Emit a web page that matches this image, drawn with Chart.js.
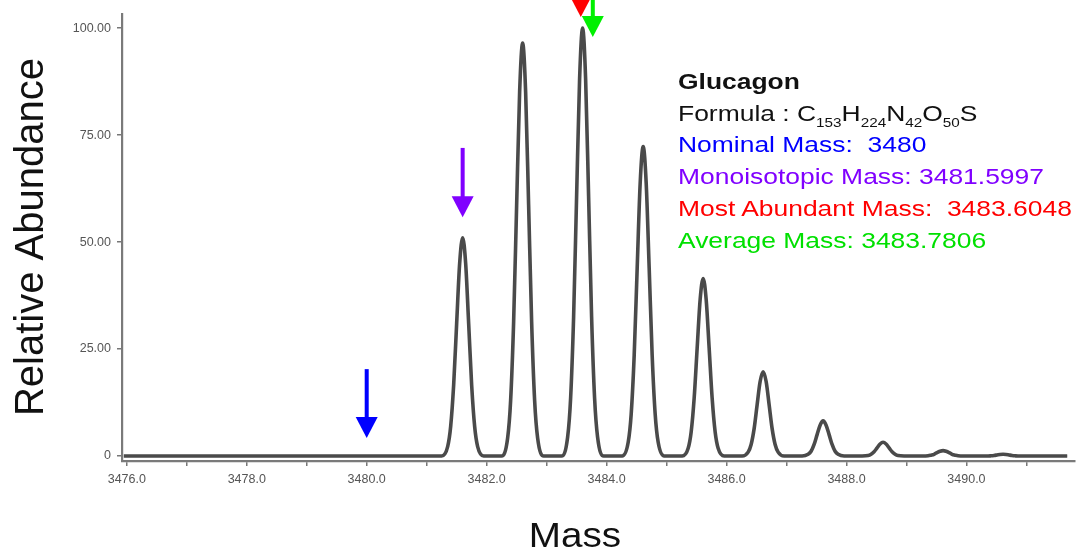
<!DOCTYPE html>
<html>
<head>
<meta charset="utf-8">
<script src="https://cdn.jsdelivr.net/npm/chart.js@4/dist/chart.umd.min.js"></script>
<style>
  body { margin: 0; background: #fff; }
  .wrap { position: relative; width: 1076px; height: 554px; }
  .notes {
    position: absolute; left: 678px; top: 66px;
    font-family: "Liberation Sans", Arial, sans-serif;
    font-size: 22.5px; line-height: 31.7px; white-space: nowrap;
    transform: scaleX(1.175); transform-origin: 0 0;
  }
  .notes sub { font-size: 13px; vertical-align: -5.6px; line-height: 0; }
</style>
</head>
<body>
<div class="wrap">
  <canvas id="spectrum"></canvas>
  <div class="notes">
    <div style="font-weight:bold;color:#111">Glucagon</div>
    <div style="color:#111">Formula : C<sub>153</sub>H<sub>224</sub>N<sub>42</sub>O<sub>50</sub>S</div>
    <div style="color:#0000ff">Nominal Mass:&nbsp; 3480</div>
    <div style="color:#8000ff">Monoisotopic Mass: 3481.5997</div>
    <div style="color:#ff0000">Most Abundant Mass:&nbsp; 3483.6048</div>
    <div style="color:#00e000">Average Mass: 3483.7806</div>
  </div>
</div>
<script>
// isotope profile
const profileMass = [
  3475.95,
  3481.25, 3481.35, 3481.40, 3481.45, 3481.50, 3481.55, 3481.60, 3481.65, 3481.70, 3481.75, 3481.80, 3481.85, 3481.95,
  3482.25, 3482.35, 3482.40, 3482.45, 3482.50, 3482.55, 3482.60, 3482.65, 3482.70, 3482.75, 3482.80, 3482.85, 3482.95,
  3483.25, 3483.35, 3483.40, 3483.45, 3483.50, 3483.55, 3483.60, 3483.65, 3483.70, 3483.75, 3483.80, 3483.85, 3483.95,
  3484.26, 3484.36, 3484.41, 3484.46, 3484.51, 3484.56, 3484.61, 3484.66, 3484.71, 3484.76, 3484.81, 3484.86, 3484.96,
  3485.26, 3485.36, 3485.41, 3485.46, 3485.51, 3485.56, 3485.61, 3485.66, 3485.71, 3485.76, 3485.81, 3485.86, 3485.96,
  3486.26, 3486.36, 3486.41, 3486.46, 3486.51, 3486.56, 3486.61, 3486.66, 3486.71, 3486.76, 3486.81, 3486.86, 3486.96,
  3487.26, 3487.36, 3487.41, 3487.46, 3487.51, 3487.56, 3487.61, 3487.66, 3487.71, 3487.76, 3487.81, 3487.86, 3487.96,
  3488.26, 3488.36, 3488.41, 3488.46, 3488.51, 3488.56, 3488.61, 3488.66, 3488.71, 3488.76, 3488.81, 3488.86, 3488.96,
  3489.26, 3489.36, 3489.41, 3489.46, 3489.51, 3489.56, 3489.61, 3489.66, 3489.71, 3489.76, 3489.81, 3489.86, 3489.96,
  3490.26, 3490.36, 3490.41, 3490.46, 3490.51, 3490.56, 3490.61, 3490.66, 3490.71, 3490.76, 3490.81, 3490.86, 3490.96,
  3491.68
];
const profileAbundance = [
  0,
  0, 2.2, 6.9, 16.6, 31.0, 45.0, 51.0, 45.0, 31.0, 16.6, 6.9, 2.2, 0,
  0, 4.2, 13.0, 31.4, 58.6, 85.1, 96.5, 85.1, 58.6, 31.4, 13.0, 4.2, 0,
  0, 4.4, 13.5, 32.5, 60.7, 88.2, 100, 88.2, 60.7, 32.5, 13.5, 4.4, 0,
  0, 3.2, 9.8, 23.5, 43.9, 63.8, 72.3, 63.8, 43.9, 23.5, 9.8, 3.2, 0,
  0, 1.8, 5.6, 13.5, 25.2, 36.6, 41.5, 36.6, 25.2, 13.5, 5.6, 1.8, 0,
  0, 0.9, 2.7, 6.4, 12.0, 17.4, 19.7, 17.4, 12.0, 6.4, 2.7, 0.9, 0,
  0, 0.4, 1.1, 2.7, 5.0, 7.2, 8.2, 7.2, 5.0, 2.7, 1.1, 0.4, 0,
  0, 0.1, 0.4, 1.0, 1.9, 2.8, 3.2, 2.8, 1.9, 1.0, 0.4, 0.1, 0,
  0, 0.05, 0.2, 0.4, 0.8, 1.1, 1.25, 1.1, 0.8, 0.4, 0.2, 0.05, 0,
  0, 0, 0.05, 0.13, 0.24, 0.35, 0.4, 0.35, 0.24, 0.13, 0.05, 0, 0,
  0
];

// arrows: nominal, monoisotopic, most abundant, average
const arrowMass = [3480.0, 3481.6, 3483.57, 3483.77];
const arrowTip = [4.2, 55.8, 102.6, 97.9];
const arrowTop = [20.3, 72.0, 110, 108];
const arrowColors = ['#0000ff', '#8000ff', '#ff0000', '#00f000'];

const massTicks = [3476, 3477, 3478, 3479, 3480, 3481, 3482, 3483, 3484, 3485, 3486, 3487, 3488, 3489, 3490, 3491];
const abundanceTicks = [0, 25, 50, 75, 100];

const points = profileMass.map((m, i) => ({ x: m, y: profileAbundance[i] }));

Chart.defaults.font.family = '"Liberation Sans", Arial, sans-serif';

const extras = {
  id: 'extras',
  afterDatasetsDraw(chart) {
    const ctx = chart.ctx;
    const xs = chart.scales.x, ys = chart.scales.y;
    ctx.save();
    arrowMass.forEach((m, i) => {
      const x = xs.getPixelForValue(m);
      const tip = ys.getPixelForValue(arrowTip[i]);
      const top = ys.getPixelForValue(arrowTop[i]);
      const head = 21;
      ctx.fillStyle = arrowColors[i];
      ctx.fillRect(x - 2, top, 4, tip - head - top + 1);
      ctx.beginPath();
      ctx.moveTo(x - 11, tip - head);
      ctx.lineTo(x + 11, tip - head);
      ctx.lineTo(x, tip);
      ctx.closePath();
      ctx.fill();
    });
    ctx.restore();
  },
  afterDraw(chart) {
    const ctx = chart.ctx;
    ctx.save();
    ctx.fillStyle = '#111';
    ctx.textAlign = 'center';
    ctx.textBaseline = 'alphabetic';
    ctx.font = '34.5px "Liberation Sans", Arial, sans-serif';
    ctx.translate(575, 547);
    ctx.scale(1.12, 1);
    ctx.fillText('Mass', 0, 0);
    ctx.restore();

    ctx.save();
    ctx.fillStyle = '#111';
    ctx.textAlign = 'center';
    ctx.textBaseline = 'alphabetic';
    ctx.font = '40px "Liberation Sans", Arial, sans-serif';
    ctx.translate(43, 237);
    ctx.rotate(-Math.PI / 2);
    ctx.fillText('Relative Abundance', 0, 0);
    ctx.restore();
  }
};

new Chart(document.getElementById('spectrum'), {
  type: 'line',
  data: {
    datasets: [
      {
        data: points,
        borderColor: '#4a4a4a',
        borderWidth: 3.6,
        pointRadius: 0,
        cubicInterpolationMode: 'monotone',
        fill: false
      },
      {
        data: points,
        borderColor: '#b4b4b4',
        borderWidth: 1.5,
        pointRadius: 0,
        cubicInterpolationMode: 'monotone',
        fill: false
      }
    ]
  },
  options: {
    responsive: true,
    maintainAspectRatio: false,
    animation: false,
    layout: { padding: { top: 14, right: 1, left: 0, bottom: 0 } },
    plugins: {
      legend: { display: false },
      tooltip: { enabled: false }
    },
    scales: {
      x: {
        type: 'linear',
        min: 3475.92,
        max: 3491.81,
        afterBuildTicks: s => { s.ticks = massTicks.map(v => ({ value: v })); },
        afterFit: s => { s.height = 93; },
        ticks: {
          autoSkip: false,
          maxRotation: 0,
          padding: 6,
          color: '#555',
          font: { size: 12.5 },
          callback: v => (v % 2 === 0 ? v.toFixed(1) : '')
        },
        grid: { drawOnChartArea: false, drawTicks: true, tickLength: 5, color: '#777', lineWidth: 1.5 },
        border: { display: true, color: '#7a7a7a', width: 2.2 }
      },
      y: {
        type: 'linear',
        min: -1.17,
        max: 103.3,
        afterBuildTicks: s => { s.ticks = abundanceTicks.map(v => ({ value: v })); },
        afterFit: s => { s.width = 122; },
        ticks: {
          padding: 6,
          color: '#555',
          font: { size: 12.5 },
          callback: v => (v === 0 ? '0' : v.toFixed(2))
        },
        grid: { drawOnChartArea: false, drawTicks: true, tickLength: 5, color: '#777', lineWidth: 1.5 },
        border: { display: true, color: '#7a7a7a', width: 2.2 }
      }
    }
  },
  plugins: [extras]
});
</script>
</body>
</html>
